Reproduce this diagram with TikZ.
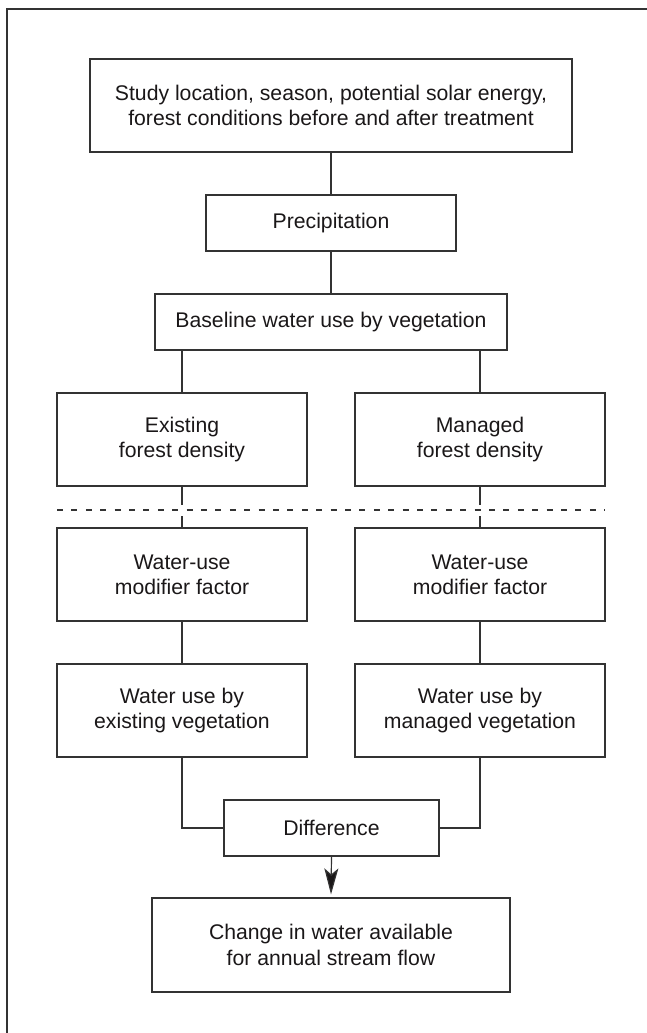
\documentclass[tikz,border=0pt]{standalone}
\usepackage{fontspec}
\setmainfont{Liberation Sans}
\usetikzlibrary{arrows.meta}
\definecolor{ink}{HTML}{1A1718}
\definecolor{linec}{HTML}{333333}
\begin{document}
\begin{tikzpicture}[x=0.5pt,y=-0.5pt,
  box/.style={draw=linec, line width=0.6pt, text=ink, align=center, inner sep=0pt,
    font=\fontsize{10.6pt}{12.6pt}\selectfont},
  wide/.style={box, minimum width=125pt, minimum height=46.5pt},
  conn/.style={draw=linec, line width=0.6pt}
]
\useasboundingbox (0,0) rectangle (647,1033);
% outer frame (top and left edges)
\draw[draw=linec, line width=0.7pt] (7,1033) -- (7,9) -- (647,9);

\node[box, minimum width=241pt, minimum height=46.5pt] (top) at (331,105.5)
  {Study location, season, potential solar energy,\\forest conditions before and after treatment};
\node[box, minimum width=125pt, minimum height=28pt] (prec) at (331,223) {Precipitation};
\node[box, minimum width=176pt, minimum height=28pt] (base) at (331,322) {Baseline water use by vegetation};

\node[wide] (exist) at (182,439.5) {Existing\\forest density};
\node[wide] (manag) at (480,439.5) {Managed\\forest density};
\node[wide] (modL) at (182,574.5) {Water-use\\modifier factor};
\node[wide] (modR) at (480,574.5) {Water-use\\modifier factor};
\node[wide] (useL) at (182,710.5) {Water use by\\existing vegetation};
\node[wide] (useR) at (480,710.5) {Water use by\\managed vegetation};

\node[box, minimum width=107.5pt, minimum height=28pt] (diff) at (331.5,828) {Difference};
\node[box, minimum width=179pt, minimum height=47pt] (chg) at (331,945)
  {Change in water available\\for annual stream flow};

\coordinate (dl) at (57,510);
\coordinate (dr) at (605,510);
% breaks of the vertical connectors at the dashed line
\coordinate (gLa) at (182,505);
\coordinate (gLb) at (182,516);
\coordinate (gRa) at (480,505);
\coordinate (gRb) at (480,516);

\draw[conn] (top) -- (prec);
\draw[conn] (prec) -- (base);
\draw[conn] (base.south -| exist.north) -- (exist.north);
\draw[conn] (base.south -| manag.north) -- (manag.north);
\draw[conn] (exist.south) -- (gLa);
\draw[conn] (gLb) -- (modL.north);
\draw[conn] (manag.south) -- (gRa);
\draw[conn] (gRb) -- (modR.north);
\draw[conn] (modL) -- (useL);
\draw[conn] (modR) -- (useR);
\draw[conn] (useL.south) |- (diff.west);
\draw[conn] (useR.south) |- (diff.east);
\draw[conn, -{Stealth[length=13pt, width=7pt, inset=3pt, fill=ink]}] (diff.south) -- ([yshift=1.5pt]chg.north);

\draw[draw=linec, line width=0.6pt, dash pattern=on 3pt off 4.2pt] (dl) -- (dr);
\end{tikzpicture}
\end{document}
